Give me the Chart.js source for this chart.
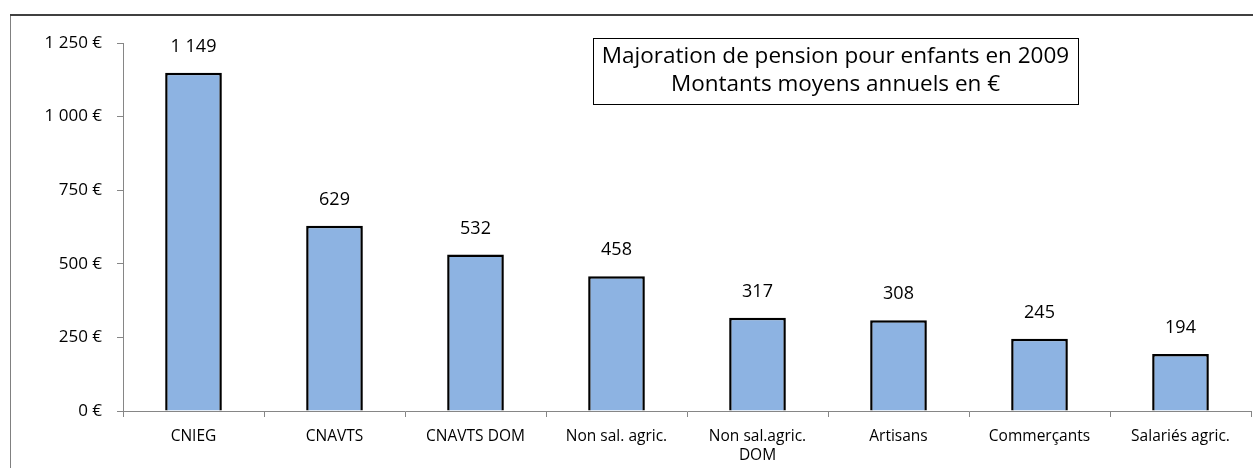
<!DOCTYPE html>
<html>
<head>
<meta charset="utf-8">
<script src="https://cdn.jsdelivr.net/npm/chart.js@4/dist/chart.umd.min.js"></script>
<style>
	html, body { margin: 0; padding: 0; background: #fff; }
	#wrap { width: 1253px; height: 468px; position: relative; }
</style>
</head>
<body>
<div id="wrap"><canvas id="pensionChart"></canvas></div>
<script>
const categories = [ 'CNIEG', 'CNAVTS', 'CNAVTS DOM', 'Non sal. agric.', [ 'Non sal.agric.', 'DOM' ], 'Artisans', 'Commerçants', 'Salariés agric.' ]
const amounts = [ 1149, 629, 532, 458, 317, 308, 245, 194 ]
const yTicks = [ 0, 250, 500, 750, 1000, 1250 ]
const titleLines = [ 'Majoration de pension pour enfants en 2009', 'Montants moyens annuels en €' ]

const FONT = '"Open Sans", "Noto Sans", sans-serif'

const fmt = (v) => String(v).replace(/\B(?=(\d{3})+(?!\d))/g, ' ')

// frame, title box and value labels
const decorations = {
	id: 'decorations',
	beforeDraw (chart) {
		const ctx = chart.ctx
		ctx.save()
		ctx.strokeStyle = '#808080'
		ctx.lineWidth = 1
		ctx.beginPath()
		ctx.moveTo(10.5, 470)
		ctx.lineTo(10.5, 14.5)
		ctx.stroke()
		ctx.strokeStyle = '#404040'
		ctx.lineWidth = 2
		ctx.beginPath()
		ctx.moveTo(10, 15)
		ctx.lineTo(1260, 15)
		ctx.stroke()
		ctx.restore()
	},
	afterDatasetsDraw (chart) {
		const ctx = chart.ctx
		ctx.save()
		// value labels
		ctx.fillStyle = '#000'
		ctx.font = '18px ' + FONT
		ctx.textAlign = 'center'
		ctx.textBaseline = 'middle'
		chart.getDatasetMeta(0).data.forEach((bar, i) => {
			ctx.fillText(fmt(amounts[i]), bar.x, bar.y - 26)
		})
		// title box
		ctx.fillStyle = '#fff'
		ctx.fillRect(593, 38, 485, 66)
		ctx.strokeStyle = '#000'
		ctx.lineWidth = 1
		ctx.strokeRect(593.5, 38.5, 485, 66)
		ctx.fillStyle = '#000'
		ctx.font = '22.5px ' + FONT
		ctx.fillText(titleLines[0], 835.5, 57)
		ctx.fillText(titleLines[1], 835.5, 85)
		ctx.restore()
	}
}

new Chart( document.getElementById( 'pensionChart' ), {
	type: 'bar',
	data: {
		labels: categories,
		datasets: [ {
			data: amounts,
			backgroundColor: '#8DB3E2',
			borderColor: '#000',
			borderWidth: 2.5,
			barPercentage: 0.402,
			categoryPercentage: 1
		} ]
	},
	options: {
		responsive: true,
		maintainAspectRatio: false,
		animation: false,
		layout: {
			padding: { left: 0, top: 43, right: 2, bottom: 0 }
		},
		plugins: {
			legend: { display: false },
			tooltip: { enabled: false }
		},
		scales: {
			x: {
				afterFit (axis) {
					axis.height = 57
				},
				grid: {
					offset: true,
					drawOnChartArea: false,
					tickLength: 6,
					color: '#868686'
				},
				border: { color: '#868686', width: 1 },
				ticks: {
					color: '#000',
					font: { family: FONT, size: 15.5, lineHeight: 1.25 },
					padding: 10,
					maxRotation: 0,
					autoSkip: false
				}
			},
			y: {
				min: 0,
				max: 1250,
				afterBuildTicks (axis) {
					axis.ticks = yTicks.map(v => ({ value: v }))
				},
				afterFit (axis) {
					axis.width = 123
				},
				grid: {
					drawOnChartArea: false,
					tickLength: 6,
					color: '#868686'
				},
				border: { color: '#868686', width: 1 },
				ticks: {
					color: '#000',
					font: { family: FONT, size: 17 },
					padding: 15,
					callback: (v) => fmt(v) + ' €'
				}
			}
		}
	},
	plugins: [ decorations ]
} )
</script>
</body>
</html>
